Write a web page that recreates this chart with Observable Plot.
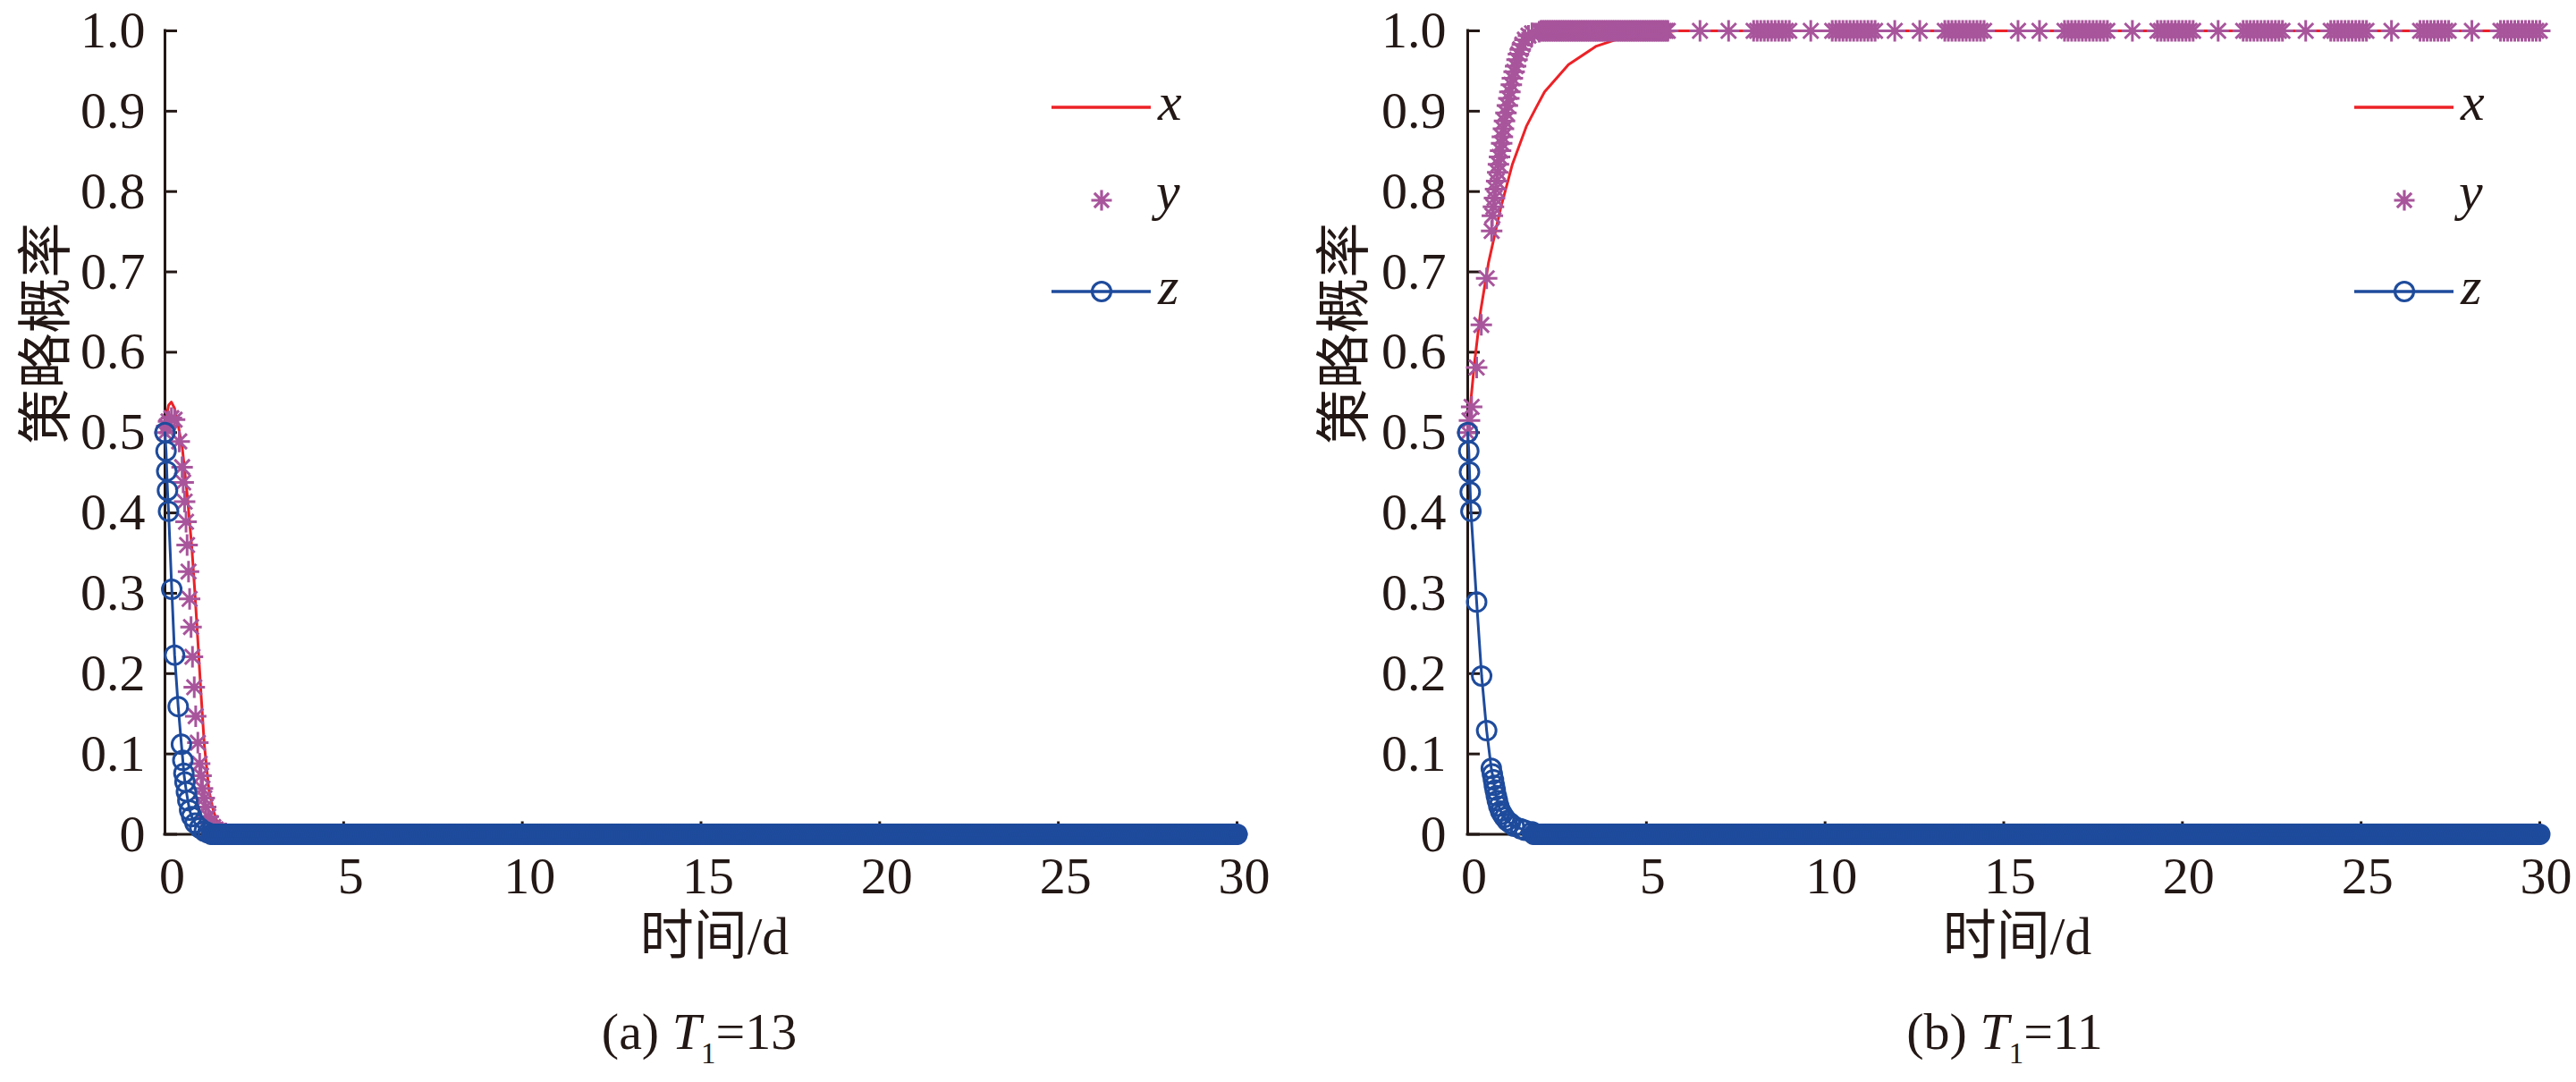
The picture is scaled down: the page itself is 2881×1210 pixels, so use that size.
<!DOCTYPE html>
<html>
<head>
<meta charset="utf-8">
<script src="https://cdn.jsdelivr.net/npm/d3@7"></script>
<script src="https://cdn.jsdelivr.net/npm/@observablehq/plot@0.6"></script>
<style>
  html, body { margin: 0; padding: 0; background: #fff; }
  #wrap { position: relative; width: 2881px; height: 1210px; overflow: hidden; background: #fff; }
</style>
</head>
<body>
<div id="wrap"></div>
<script>
// ---------------- DATA ----------------
const xTicks = [0, 5, 10, 15, 20, 25, 30];
const yTicks = [0, 0.1, 0.2, 0.3, 0.4, 0.5, 0.6, 0.7, 0.8, 0.9, 1];
const yTickLabels = ["0", "0.1", "0.2", "0.3", "0.4", "0.5", "0.6", "0.7", "0.8", "0.9", "1.0"];
const yTitle = "策略概率";
const xTitle = "时间/d";
const seriesNames = ["x", "y", "z"];
const captionTags = ["(a)", "(b)"];
const T1Values = ["13", "11"];

// Panel (a) T1 = 13 : transient part
const aX_t = [0, 0.05, 0.1, 0.18, 0.27, 0.35, 0.48, 0.62, 0.75, 0.84, 0.92, 1.01, 1.1, 1.23, 1.35, 1.48, 1.6, 1.8, 2.2, 30];
const aX_v = [0.5, 0.522, 0.534, 0.538, 0.53, 0.514, 0.483, 0.424, 0.358, 0.299, 0.241, 0.174, 0.112, 0.055, 0.03, 0.013, 0.005, 0.001, 0, 0];
const aY_t = [0, 0.05, 0.1, 0.18, 0.27, 0.40, 0.48, 0.51, 0.55, 0.59, 0.62, 0.66, 0.69, 0.73, 0.77, 0.82, 0.86, 0.92, 0.97, 1.01, 1.05, 1.10, 1.14, 1.21, 1.28, 1.35, 1.42, 1.5, 1.6, 1.7];
const aY_v = [0.5, 0.508, 0.514, 0.518, 0.516, 0.489, 0.457, 0.438, 0.414, 0.389, 0.360, 0.327, 0.293, 0.258, 0.221, 0.183, 0.147, 0.114, 0.088, 0.073, 0.057, 0.045, 0.034, 0.022, 0.014, 0.009, 0.006, 0.004, 0.002, 0.001];
const aZ_t = [0, 0.03, 0.05, 0.07, 0.10, 0.19, 0.27, 0.37, 0.46, 0.50, 0.53, 0.56, 0.60, 0.64, 0.69, 0.75, 0.84, 0.97, 1.1, 1.2];
const aZ_v = [0.5, 0.477, 0.452, 0.428, 0.402, 0.305, 0.223, 0.159, 0.112, 0.092, 0.076, 0.065, 0.053, 0.042, 0.030, 0.022, 0.014, 0.008, 0.004, 0.002];
// Dense solver output times after the transient (settled values)
const denseTail_t = [
1.3,1.35,1.4,1.45,1.5,1.55,1.6,1.65,1.7,1.75,1.8,1.85,1.9,1.95,
2,2.05,2.1,2.15,2.2,2.25,2.3,2.35,2.4,2.45,2.5,2.55,2.6,2.65,2.7,2.75,2.8,2.85,2.9,2.95,
3,3.05,3.1,3.15,3.2,3.25,3.3,3.35,3.4,3.45,3.5,3.55,3.6,3.65,3.7,3.75,3.8,3.85,3.9,3.95,
4,4.05,4.1,4.15,4.2,4.25,4.3,4.35,4.4,4.45,4.5,4.55,4.6,4.65,4.7,4.75,4.8,4.85,4.9,4.95,
5,5.05,5.1,5.15,5.2,5.25,5.3,5.35,5.4,5.45,5.5,5.55,5.6,5.65,5.7,5.75,5.8,5.85,5.9,5.95,
6,6.05,6.1,6.15,6.2,6.25,6.3,6.35,6.4,6.45,6.5,6.55,6.6,6.65,6.7,6.75,6.8,6.85,6.9,6.95,
7,7.05,7.1,7.15,7.2,7.25,7.3,7.35,7.4,7.45,7.5,7.55,7.6,7.65,7.7,7.75,7.8,7.85,7.9,7.95,
8,8.05,8.1,8.15,8.2,8.25,8.3,8.35,8.4,8.45,8.5,8.55,8.6,8.65,8.7,8.75,8.8,8.85,8.9,8.95,
9,9.05,9.1,9.15,9.2,9.25,9.3,9.35,9.4,9.45,9.5,9.55,9.6,9.65,9.7,9.75,9.8,9.85,9.9,9.95,
10,10.05,10.1,10.15,10.2,10.25,10.3,10.35,10.4,10.45,10.5,10.55,10.6,10.65,10.7,10.75,10.8,10.85,10.9,10.95,
11,11.05,11.1,11.15,11.2,11.25,11.3,11.35,11.4,11.45,11.5,11.55,11.6,11.65,11.7,11.75,11.8,11.85,11.9,11.95,
12,12.05,12.1,12.15,12.2,12.25,12.3,12.35,12.4,12.45,12.5,12.55,12.6,12.65,12.7,12.75,12.8,12.85,12.9,12.95,
13,13.05,13.1,13.15,13.2,13.25,13.3,13.35,13.4,13.45,13.5,13.55,13.6,13.65,13.7,13.75,13.8,13.85,13.9,13.95,
14,14.05,14.1,14.15,14.2,14.25,14.3,14.35,14.4,14.45,14.5,14.55,14.6,14.65,14.7,14.75,14.8,14.85,14.9,14.95,
15,15.05,15.1,15.15,15.2,15.25,15.3,15.35,15.4,15.45,15.5,15.55,15.6,15.65,15.7,15.75,15.8,15.85,15.9,15.95,
16,16.05,16.1,16.15,16.2,16.25,16.3,16.35,16.4,16.45,16.5,16.55,16.6,16.65,16.7,16.75,16.8,16.85,16.9,16.95,
17,17.05,17.1,17.15,17.2,17.25,17.3,17.35,17.4,17.45,17.5,17.55,17.6,17.65,17.7,17.75,17.8,17.85,17.9,17.95,
18,18.05,18.1,18.15,18.2,18.25,18.3,18.35,18.4,18.45,18.5,18.55,18.6,18.65,18.7,18.75,18.8,18.85,18.9,18.95,
19,19.05,19.1,19.15,19.2,19.25,19.3,19.35,19.4,19.45,19.5,19.55,19.6,19.65,19.7,19.75,19.8,19.85,19.9,19.95,
20,20.05,20.1,20.15,20.2,20.25,20.3,20.35,20.4,20.45,20.5,20.55,20.6,20.65,20.7,20.75,20.8,20.85,20.9,20.95,
21,21.05,21.1,21.15,21.2,21.25,21.3,21.35,21.4,21.45,21.5,21.55,21.6,21.65,21.7,21.75,21.8,21.85,21.9,21.95,
22,22.05,22.1,22.15,22.2,22.25,22.3,22.35,22.4,22.45,22.5,22.55,22.6,22.65,22.7,22.75,22.8,22.85,22.9,22.95,
23,23.05,23.1,23.15,23.2,23.25,23.3,23.35,23.4,23.45,23.5,23.55,23.6,23.65,23.7,23.75,23.8,23.85,23.9,23.95,
24,24.05,24.1,24.15,24.2,24.25,24.3,24.35,24.4,24.45,24.5,24.55,24.6,24.65,24.7,24.75,24.8,24.85,24.9,24.95,
25,25.05,25.1,25.15,25.2,25.25,25.3,25.35,25.4,25.45,25.5,25.55,25.6,25.65,25.7,25.75,25.8,25.85,25.9,25.95,
26,26.05,26.1,26.15,26.2,26.25,26.3,26.35,26.4,26.45,26.5,26.55,26.6,26.65,26.7,26.75,26.8,26.85,26.9,26.95,
27,27.05,27.1,27.15,27.2,27.25,27.3,27.35,27.4,27.45,27.5,27.55,27.6,27.65,27.7,27.75,27.8,27.85,27.9,27.95,
28,28.05,28.1,28.15,28.2,28.25,28.3,28.35,28.4,28.45,28.5,28.55,28.6,28.65,28.7,28.75,28.8,28.85,28.9,28.95,
29,29.05,29.1,29.15,29.2,29.25,29.3,29.35,29.4,29.45,29.5,29.55,29.6,29.65,29.7,29.75,29.8,29.85,29.9,29.95,
30];
const aSettled = {y: 0, z: 0};

// Panel (b) T1 = 11 : transient part
const bX_t = [0, 0.19, 0.36, 0.58, 0.92, 1.25, 1.64, 1.92, 2.15, 2.82, 3.6, 4.49, 5.83, 30];
const bX_v = [0.5, 0.587, 0.651, 0.711, 0.779, 0.834, 0.881, 0.905, 0.924, 0.958, 0.981, 0.994, 1.0, 1.0];
const bY_t = [0, 0.05, 0.11, 0.25, 0.38, 0.53, 0.67, 0.69, 0.72, 0.75, 0.78, 0.81, 0.84, 0.86, 0.89, 0.92, 0.95, 0.97, 1.0, 1.03, 1.07, 1.11, 1.15, 1.18, 1.22, 1.25, 1.3, 1.34, 1.38, 1.42, 1.47, 1.53, 1.6, 1.7, 1.8, 2.0];
const bY_v = [0.5, 0.515, 0.532, 0.581, 0.634, 0.692, 0.751, 0.770, 0.781, 0.792, 0.803, 0.813, 0.824, 0.834, 0.843, 0.851, 0.860, 0.868, 0.878, 0.888, 0.898, 0.907, 0.916, 0.924, 0.933, 0.941, 0.949, 0.956, 0.964, 0.971, 0.977, 0.983, 0.989, 0.994, 0.997, 0.999];
const bZ_t = [0, 0.03, 0.05, 0.07, 0.09, 0.25, 0.39, 0.53, 0.66, 0.69, 0.72, 0.745, 0.77, 0.80, 0.83, 0.87, 0.92, 0.97, 1.03, 1.1, 1.19, 1.3, 1.48, 1.6, 1.8];
const bZ_v = [0.5, 0.477, 0.451, 0.426, 0.402, 0.289, 0.197, 0.129, 0.082, 0.075, 0.068, 0.061, 0.055, 0.048, 0.042, 0.035, 0.029, 0.025, 0.021, 0.017, 0.014, 0.010, 0.007, 0.005, 0.003];
// Panel (b): y asterisks at 1 come in clusters of output steps
const bYTail_t = [
2.05,2.1,2.15,2.2,2.25,2.3,2.35,2.4,2.45,2.5,2.55,2.6,2.65,2.7,2.75,2.8,2.85,2.9,2.95,
3,3.05,3.1,3.15,3.2,3.25,3.3,3.35,3.4,3.45,3.5,3.55,3.6,3.65,3.7,3.75,3.8,3.85,3.9,3.95,
4,4.05,4.1,4.15,4.2,4.25,4.3,4.35,4.4,4.45,4.5,4.55,4.6,4.65,4.7,4.75,4.8,4.85,4.9,4.95,
5,5.05,5.1,5.15,5.2,5.25,5.3,5.35,5.4,5.45,5.5,5.55,5.6,
6.5,7.3,
8,8.1,8.2,8.3,8.4,8.5,8.6,8.7,8.8,8.9,9,
9.6,
10.2,10.3,10.4,10.5,10.6,10.7,10.8,10.9,11,11.1,11.2,11.3,11.4,
11.95,12.65,
13.35,13.45,13.55,13.65,13.75,13.85,13.95,14.05,14.15,14.25,14.35,14.45,
15.4,16,
16.7,16.8,16.9,17,17.1,17.2,17.3,17.4,17.5,17.6,17.7,17.8,17.9,
18.6,
19.3,19.4,19.5,19.6,19.7,19.8,19.9,20,20.1,20.2,20.3,
21,
21.7,21.8,21.9,22,22.1,22.2,22.3,22.4,22.5,22.6,22.7,22.8,
23.45,
24.15,24.25,24.35,24.45,24.55,24.65,24.75,24.85,24.95,25.05,25.15,
25.85,
26.65,26.75,26.85,26.95,27.05,27.15,27.25,27.35,27.45,
28.1,
28.9,29,29.1,29.2,29.3,29.4,29.5,29.6,29.7,29.8,29.9,30];
const bSettled = {y: 1, z: 0};

// ---------------- STYLE ----------------
const C = {red: "#ec2227", pink: "#a8559c", blue: "#1e4b9c", ink: "#231815"};
const H = 1100, MT = 31, MB = 170.5;
const TOP = 3; // small page offset so the top tick label is not cut at the edge

function rows(ts, vs, tail, settled) {
  const r = ts.map((t, i) => ({t, v: vs[i]}));
  if (tail) {
    const last = ts[ts.length - 1];
    for (const t of tail) if (t > last + 1e-9) r.push({t, v: settled});
  }
  return r;
}

const asterisk8 = {
  draw(context, size) {
    const r = Math.sqrt(size / Math.PI);
    const d = r * Math.SQRT1_2;
    context.moveTo(-r, 0); context.lineTo(r, 0);
    context.moveTo(0, -r); context.lineTo(0, r);
    context.moveTo(-d, -d); context.lineTo(d, d);
    context.moveTo(-d, d); context.lineTo(d, -d);
  }
};

function panel(p) {
  const innerW = p.width - p.marginLeft - p.marginRight;
  const innerH = H - MT - MB;
  return Plot.plot({
    width: p.width, height: H,
    marginLeft: p.marginLeft, marginRight: p.marginRight, marginTop: MT, marginBottom: MB,
    x: {domain: [0, 30]},
    y: {domain: [0, 1]},
    style: {fontFamily: "'Liberation Serif', 'Noto Sans CJK SC', serif", color: C.ink, background: "transparent", overflow: "visible"},
    marks: [
      Plot.tickY(yTicks, {y: d => d, stroke: C.ink, strokeWidth: 3, insetRight: innerW - 14}),
      Plot.tickX(xTicks, {x: d => d, stroke: C.ink, strokeWidth: 3, insetTop: innerH - 14}),
      Plot.ruleX([0], {stroke: C.ink, strokeWidth: 3, strokeLinecap: "square"}),
      Plot.ruleY([0], {stroke: C.ink, strokeWidth: 3, strokeLinecap: "square"}),
      Plot.axisY(yTicks, {tickSize: 0, tickPadding: p.yPad, fontSize: 58, label: null,
        tickFormat: d => yTickLabels[yTicks.indexOf(d)]}),
      Plot.axisX(xTicks, {tickSize: 0, tickPadding: 25, fontSize: 58, dx: p.xDx, label: null,
        tickFormat: d => String(d)}),
      Plot.line(p.xRows, {x: "t", y: "v", stroke: C.red, strokeWidth: 3}),
      Plot.dot(p.yRows, {x: "t", y: "v", symbol: asterisk8, r: 12, stroke: C.pink, strokeWidth: 3, fill: "none"}),
      Plot.line(p.zRows, {x: "t", y: "v", stroke: C.blue, strokeWidth: 3}),
      Plot.dot(p.zRows, {x: "t", y: "v", symbol: "circle", r: 10.5, stroke: C.blue, strokeWidth: 3, fill: "none"}),
      Plot.text([yTitle], {frameAnchor: "left", text: d => d, rotate: -90, dx: p.yTitleDx, dy: 13,
        fontSize: 62, fontFamily: "'Noto Sans CJK SC'", fill: C.ink}),
      Plot.text([xTitle], {frameAnchor: "bottom", text: d => d, dy: 134, dx: 15, fontSize: 60, fill: C.ink})
    ]
  });
}

const panels = [
  {left: 0, width: 1440, marginLeft: 184, marginRight: 57, yPad: 22, xDx: 8, yTitleDx: -131,
   xRows: rows(aX_t, aX_v), yRows: rows(aY_t, aY_v, denseTail_t, aSettled.y), zRows: rows(aZ_t, aZ_v, denseTail_t, aSettled.z)},
  {left: 1440, width: 1441, marginLeft: 201, marginRight: 41, yPad: 24, xDx: 7, yTitleDx: -136,
   xRows: rows(bX_t, bX_v), yRows: rows(bY_t, bY_v, bYTail_t, bSettled.y), zRows: rows(bZ_t, bZ_v, denseTail_t, bSettled.z)}
];

const wrap = document.getElementById("wrap");
for (const p of panels) {
  const svg = panel(p);
  svg.style.position = "absolute";
  svg.style.left = p.left + "px";
  svg.style.top = TOP + "px";
  wrap.appendChild(svg);
}

// ---------------- LEGEND + CAPTIONS (overlay) ----------------
const overlay = d3.create("svg")
  .attr("width", 2881).attr("height", 1210)
  .style("position", "absolute").style("left", "0px").style("top", "0px")
  .style("pointer-events", "none")
  .attr("font-family", "'Liberation Serif', serif")
  .attr("fill", C.ink);

const astPath = d3.path();
asterisk8.draw(astPath, Math.PI * 11.5 * 11.5);

const root = overlay.append("g").attr("transform", `translate(0,${TOP})`);

[0, 1457].forEach((ox, k) => {
  const g = root.append("g").attr("transform", `translate(${ox},0)`);
  g.append("line").attr("x1", 1176).attr("x2", 1287).attr("y1", 117).attr("y2", 117)
    .attr("stroke", C.red).attr("stroke-width", 3.3);
  g.append("text").attr("x", 1295).attr("y", 131).attr("font-size", 60).attr("font-style", "italic").text(seriesNames[0]);
  g.append("path").attr("d", astPath.toString()).attr("transform", "translate(1232,221)")
    .attr("fill", "none").attr("stroke", C.pink).attr("stroke-width", 3.2);
  g.append("text").attr("x", 1293).attr("y", 231).attr("font-size", 60).attr("font-style", "italic").text(seriesNames[1]);
  g.append("line").attr("x1", 1176).attr("x2", 1287).attr("y1", 323).attr("y2", 323)
    .attr("stroke", C.blue).attr("stroke-width", 3.3);
  g.append("circle").attr("cx", 1232).attr("cy", 323).attr("r", 10.5)
    .attr("fill", "none").attr("stroke", C.blue).attr("stroke-width", 3.2);
  g.append("text").attr("x", 1295).attr("y", 337).attr("font-size", 60).attr("font-style", "italic").text(seriesNames[2]);
});

[782, 2242].forEach((cx, k) => {
  const t = root.append("text").attr("x", cx).attr("y", 1170).attr("text-anchor", "middle")
    .attr("font-size", 58).style("white-space", "pre");
  t.append("tspan").text(captionTags[k] + " ");
  t.append("tspan").attr("font-style", "italic").text("T");
  t.append("tspan").attr("font-size", 33).attr("dy", 16).text("1");
  t.append("tspan").attr("dy", -16).text("=" + T1Values[k]);
});

wrap.appendChild(overlay.node());
</script>
</body>
</html>
